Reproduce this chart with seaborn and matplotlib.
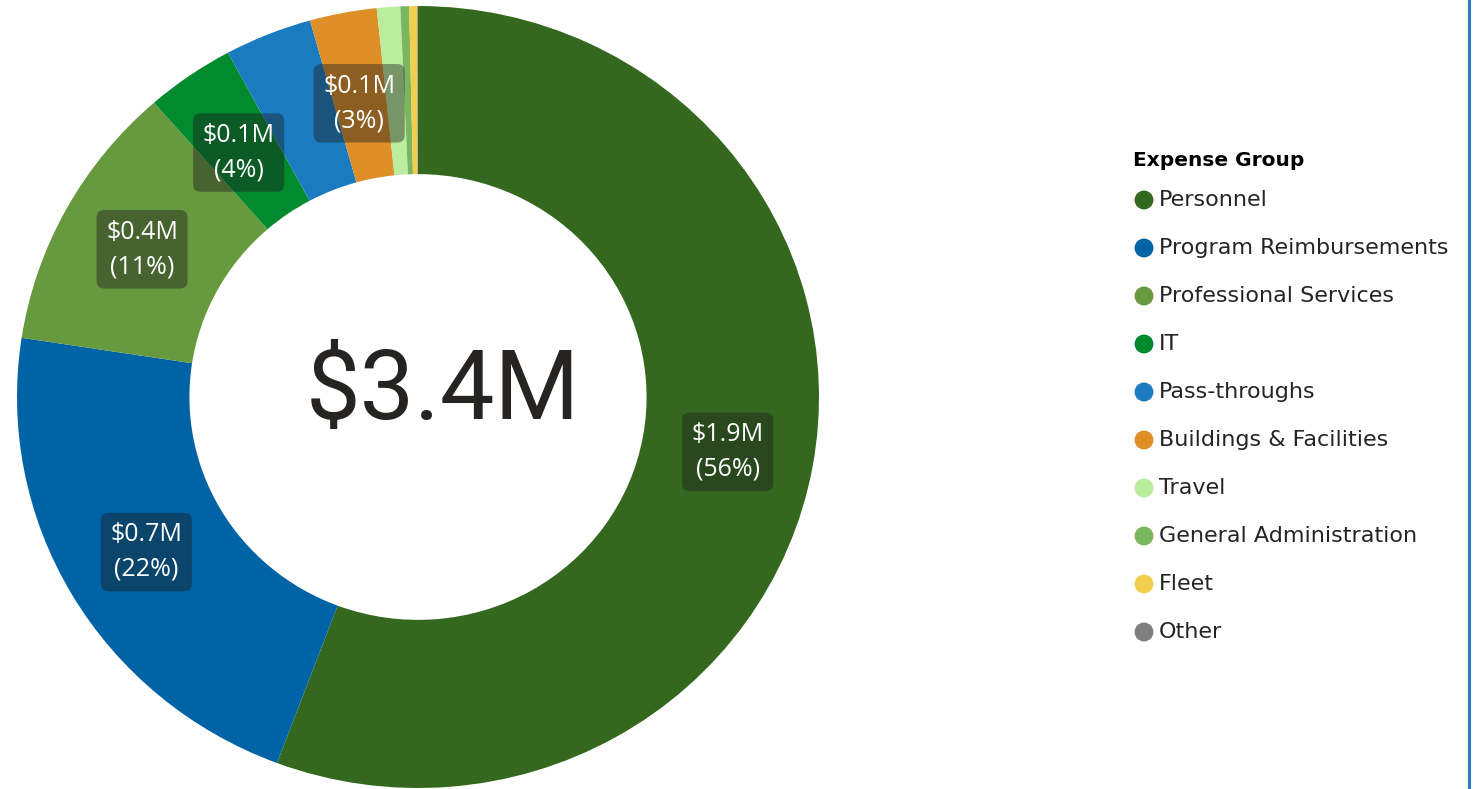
import matplotlib
matplotlib.use("Agg")
import matplotlib.pyplot as plt
from matplotlib.lines import Line2D
import seaborn as sns
import numpy as np
import pandas as pd

# ---- data ----
categories = ["Personnel", "Program Reimbursements", "Professional Services", "IT",
              "Pass-throughs", "Buildings & Facilities", "Travel",
              "General Administration", "Fleet", "Other"]
values_musd = [1.90, 0.74, 0.38, 0.122, 0.12, 0.092, 0.032, 0.012, 0.011, 0.001]
show_label = [True, True, True, True, False, True, False, False, False, False]
colors = ["#34681f", "#0063a6", "#67993f", "#028a2f", "#1a7bc1",
          "#df8f28", "#baed9e", "#7ab65e", "#f2ce4f", "#7f7f7f"]
legend_title = "Expense Group"

sns.set_theme(style="white")
plt.rcParams['font.family'] = ['Open Sans', 'DejaVu Sans']

W, H = 1473, 789
fig = plt.figure(figsize=(W / 100, H / 100), dpi=100)
fig.patch.set_facecolor("white")


def px_ax(x0, y0, x1, y1):
    return fig.add_axes([x0 / W, 1 - y1 / H, (x1 - x0) / W, (y1 - y0) / H])


# ---- donut ----
ax = px_ax(17, 6, 819, 788)
total = sum(values_musd)
wedges, _ = ax.pie(values_musd, colors=colors, startangle=90, counterclock=False,
                   radius=1.0, wedgeprops=dict(width=0.43, linewidth=0))
ax.set_xlim(-1, 1)
ax.set_ylim(-1, 1)
ax.set_aspect('auto')
ax.axis('off')

for w, v, show in zip(wedges, values_musd, show_label):
    if not show:
        continue
    th = np.deg2rad((w.theta1 + w.theta2) / 2)
    r = 0.785
    y = r * np.sin(th)
    if y > 0.6:
        y -= 0.02
    ax.text(r * np.cos(th), y,
            f"${v:.1f}M\n({100 * v / total:.0f}%)",
            ha='center', va='center', color='white', fontsize=18, linespacing=1.5,
            bbox=dict(boxstyle='round,pad=0.38,rounding_size=0.3',
                      fc='#1c1c1c', alpha=0.42, ec='none'))

fig.text(443 / W, 1 - 393 / H, f"${total:.1f}M", ha='center', va='center',
         fontsize=70, color='#252423', family=['Roboto', 'DejaVu Sans'])

# ---- legend ----
lax = px_ax(1130, 176, 1460, 656)
df = pd.DataFrame({"Expense Group": categories,
                   "row": np.arange(len(categories)),
                   "mx": [14] * len(categories)})
sns.scatterplot(data=df, x="mx", y="row", hue="Expense Group", palette=colors,
                s=185, linewidth=0, legend=False, ax=lax)
lax.set_xlim(0, 330)
lax.set_ylim(len(categories) - 0.5, -0.5)
lax.axis('off')
for i, c in enumerate(categories):
    lax.text(29, i, c, ha='left', va='center', fontsize=16, color='#252423',
             family=['DejaVu Sans'])
lax.text(3, -0.83, legend_title, ha='left', va='center', fontsize=14.5,
         fontweight='bold', color='black', family=['DejaVu Sans'])

fig.add_artist(Line2D([1468.5 / W, 1468.5 / W], [0, 1], color='#2b7bbf', lw=2.2,
                      transform=fig.transFigure))

fig.savefig('out.png', dpi=100)
